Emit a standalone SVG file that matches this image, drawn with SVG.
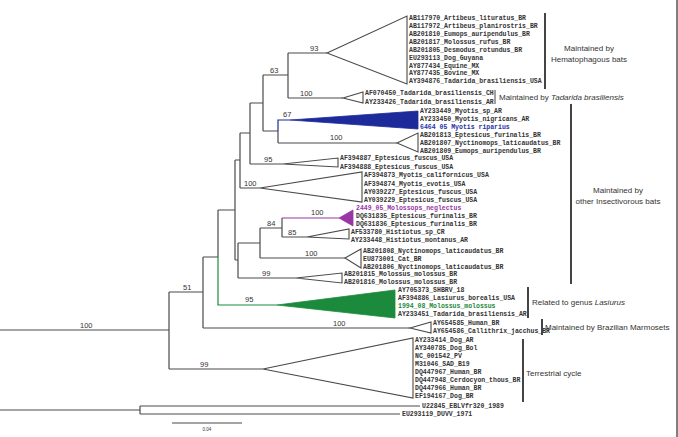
<svg xmlns="http://www.w3.org/2000/svg" width="678" height="437" viewBox="0 0 678 437">
<style>
.br{fill:none;stroke:#4a4a4a;stroke-width:1.2}
.tri{fill:#fff;stroke:#4a4a4a;stroke-width:1.1}
.lf{font-family:"Liberation Mono","DejaVu Sans Mono",monospace;font-size:6.5px;font-weight:bold;fill:#333}
.bs{font-family:"Liberation Sans",Arial,sans-serif;font-size:7.5px;fill:#333}
.cl{font-family:"Liberation Sans",Arial,sans-serif;font-size:8px;fill:#333}
.bk{stroke:#444;stroke-width:2}
</style>
<rect width="678" height="437" fill="#fff"/>
<line x1="677" y1="0" x2="677" y2="437" stroke="#555" stroke-width="1.5"/>
<g id="connectors">
<path class="br" d="M0,330H169M169,292V369M169,292H203M169,369H263M203,257V328M203,257H218M203,328H410M218,210V257M218,210H235M235,160V260M235,160H240M235,260H238M238,243V278M238,243H260M238,278H296M260,228V258M260,228H282M260,258H345M282,218V237M282,237H307M240,133V188M240,133H250M240,188H260M250,103V164M250,103H263M250,164H283M263,75V131M263,75H288M263,131H278M278,131V143M278,143H397M288,53V98M288,53H327M288,98H343M0,410H140M140,406V414M140,406H420M140,414H400"/>
<path d="M218,257V305H277" fill="none" stroke="#1b8a3c" stroke-width="1.2"/>
<path d="M282,218H339" fill="none" stroke="#9a35a6" stroke-width="1.2"/>
<path d="M278,131V120H290" fill="none" stroke="#1c2b99" stroke-width="1.2"/>
</g>
<g id="support">
<text class="bs" x="310" y="51">93</text>
<text class="bs" x="270" y="73">63</text>
<text class="bs" x="300" y="96">100</text>
<text class="bs" x="283" y="117">67</text>
<text class="bs" x="330" y="140">100</text>
<text class="bs" x="264" y="162">95</text>
<text class="bs" x="244" y="186">100</text>
<text class="bs" x="311" y="215">100</text>
<text class="bs" x="267" y="226">84</text>
<text class="bs" x="288" y="235">85</text>
<text class="bs" x="305" y="256">100</text>
<text class="bs" x="262" y="276">99</text>
<text class="bs" x="245" y="302">95</text>
<text class="bs" x="183" y="290">51</text>
<text class="bs" x="333" y="326">100</text>
<text class="bs" x="200" y="367">99</text>
<text class="bs" x="80" y="328">100</text>
</g>
<g id="hematophagous">
<polygon class="tri" points="327,53 407,16 407,84"/>
<text class="lf" x="409" y="20.2">AB117970_Artibeus_lituratus_BR</text>
<text class="lf" x="409" y="28.1">AB117972_Artibeus_planirostris_BR</text>
<text class="lf" x="409" y="36">AB201810_Eumops_auripendulus_BR</text>
<text class="lf" x="409" y="43.8">AB201817_Molossus_rufus_BR</text>
<text class="lf" x="409" y="51.7">AB201805_Desmodus_rotundus_BR</text>
<text class="lf" x="409" y="59.6">EU293113_Dog_Guyana</text>
<text class="lf" x="409" y="67.5">AY877434_Equine_MX</text>
<text class="lf" x="409" y="75.3">AY877435_Bovine_MX</text>
<text class="lf" x="409" y="83.2">AY394876_Tadarida_brasiliensis_USA</text>
</g>
<g id="tadarida">
<polygon class="tri" points="343,98 363,92 363,103"/>
<text class="lf" x="365" y="95.2">AF070450_Tadarida_brasiliensis_CH</text>
<text class="lf" x="365" y="104.2">AY233426_Tadarida_brasiliensis_AR</text>
</g>
<g id="myotis">
<polygon points="290,120 418,111 418,129" fill="#1c2b99" stroke="#1c2b99" stroke-width="0.8"/>
<text class="lf" x="420" y="113.2">AY233449_Myotis_sp_AR</text>
<text class="lf" x="420" y="121.2">AY233450_Myotis_nigricans_AR</text>
<text class="lf" x="420" y="129.2" style="fill:#2233aa">6464 05 Myotis riparius</text>
</g>
<g id="furinalis">
<polygon class="tri" points="397,143 418,133 418,152"/>
<text class="lf" x="420" y="137.2">AB201813_Eptesicus_furinalis_BR</text>
<text class="lf" x="420" y="145.2">AB201807_Nyctinomops_laticaudatus_BR</text>
<text class="lf" x="420" y="153.2">AB201809_Eumops_auripendulus_BR</text>
</g>
<g id="fuscus">
<polygon class="tri" points="283,164 338,158 338,167"/>
<text class="lf" x="340" y="160.2">AF394887_Eptesicus_fuscus_USA</text>
<text class="lf" x="340" y="169.2">AF394888_Eptesicus_fuscus_USA</text>
</g>
<g id="californicus">
<polygon class="tri" points="260,188 362,172 362,202"/>
<text class="lf" x="364" y="177.2">AF394873_Myotis_californicus_USA</text>
<text class="lf" x="364" y="185.6">AF394874_Myotis_evotis_USA</text>
<text class="lf" x="364" y="194">AY039227_Eptesicus_fuscus_USA</text>
<text class="lf" x="364" y="202.4">AY039229_Eptesicus_fuscus_USA</text>
</g>
<g id="molossops">
<polygon points="339,218 353,210 353,226" fill="#9a35a6" stroke="#9a35a6" stroke-width="0.8"/>
<text class="lf" x="356" y="210.2" style="fill:#9a35a6">2449_05_Molossops_neglectus</text>
<text class="lf" x="356" y="218.2">DQ631835_Eptesicus_furinalis_BR</text>
<text class="lf" x="356" y="226.2">DQ631836_Eptesicus_furinalis_BR</text>
</g>
<g id="histiotus">
<polygon class="tri" points="307,237 349,229 349,239"/>
<text class="lf" x="351" y="234.2">AF533780_Histiotus_sp_CR</text>
<text class="lf" x="351" y="242.2">AY233448_Histiotus_montanus_AR</text>
</g>
<g id="nyctinomops">
<polygon class="tri" points="345,258 361,249 361,268"/>
<text class="lf" x="363" y="253.2">AB201808_Nyctinomops_laticaudatus_BR</text>
<text class="lf" x="363" y="261.2">EU873001_Cat_BR</text>
<text class="lf" x="363" y="269.2">AB201806_Nyctinomops_laticaudatus_BR</text>
</g>
<g id="molossus">
<polygon class="tri" points="296,278 342,273 342,283"/>
<text class="lf" x="344" y="276.2">AB201815_Molossus_molossus_BR</text>
<text class="lf" x="344" y="284.2">AB201816_Molossus_molossus_BR</text>
</g>
<g id="lasiurus">
<polygon points="277,305 395,290 395,318" fill="#1b8a3c" stroke="#1b8a3c" stroke-width="0.8"/>
<text class="lf" x="398" y="292.2">AY705373_SHBRV_18</text>
<text class="lf" x="398" y="300.2">AF394886_Lasiurus_borealis_USA</text>
<text class="lf" x="398" y="308.2" style="fill:#1b8a3c">1994_08_Molossus_molossus</text>
<text class="lf" x="398" y="316.2">AY233451_Tadarida_brasiliensis_AR</text>
</g>
<g id="marmoset">
<polygon class="tri" points="410,328 431,322 431,333"/>
<text class="lf" x="433" y="325.2">AY654585_Human_BR</text>
<text class="lf" x="433" y="333.2">AY654586_Callithrix_jacchus_BR</text>
</g>
<g id="terrestrial">
<polygon class="tri" points="263,369 413,338 413,398"/>
<text class="lf" x="415" y="342.2">AY233414_Dog_AR</text>
<text class="lf" x="415" y="350.2">AY340785_Dog_Bol</text>
<text class="lf" x="415" y="358.2">NC_001542_PV</text>
<text class="lf" x="415" y="366.2">M31046_SAD_B19</text>
<text class="lf" x="415" y="374.2">DQ447967_Human_BR</text>
<text class="lf" x="415" y="382.2">DQ447948_Cerdocyon_thous_BR</text>
<text class="lf" x="415" y="390.2">DQ447966_Human_BR</text>
<text class="lf" x="415" y="398.2">EF194167_Dog_BR</text>
</g>
<g id="outgroup">
<text class="lf" x="422" y="408.2">U22845_EBLVfr320_1989</text>
<text class="lf" x="402" y="416.2">EU293119_DUVV_1971</text>
</g>
<g id="scalebar">
<line x1="172" y1="423" x2="242" y2="423" stroke="#4a4a4a" stroke-width="1.2"/>
<text x="207" y="431" text-anchor="middle" style="font-family:'Liberation Sans',Arial,sans-serif;font-size:4.5px;fill:#333">0.04</text>
</g>
<g id="annotations">
<line class="bk" x1="545" y1="13" x2="545" y2="89"/>
<text class="cl" x="589" y="51" text-anchor="middle">Maintained by</text>
<text class="cl" x="589" y="62" text-anchor="middle">Hematophagous bats</text>
<line class="bk" x1="495" y1="90" x2="495" y2="104" style="stroke-width:1"/>
<text class="cl" x="499" y="100">Maintained by <tspan font-style="italic">Tadarida brasiliensis</tspan></text>
<line class="bk" x1="571" y1="104" x2="571" y2="284"/>
<text class="cl" x="618" y="193" text-anchor="middle">Maintained by</text>
<text class="cl" x="618" y="204" text-anchor="middle">other Insectivorous bats</text>
<line class="bk" x1="528" y1="287" x2="528" y2="318"/>
<text class="cl" x="532" y="305">Related to genus <tspan font-style="italic">Lasiurus</tspan></text>
<line class="bk" x1="542" y1="319" x2="542" y2="335"/>
<text class="cl" x="545" y="330">Maintained by Brazilian Marmosets</text>
<line class="bk" x1="523" y1="339" x2="523" y2="402"/>
<text class="cl" x="526" y="376">Terrestrial cycle</text>
</g>
</svg>
